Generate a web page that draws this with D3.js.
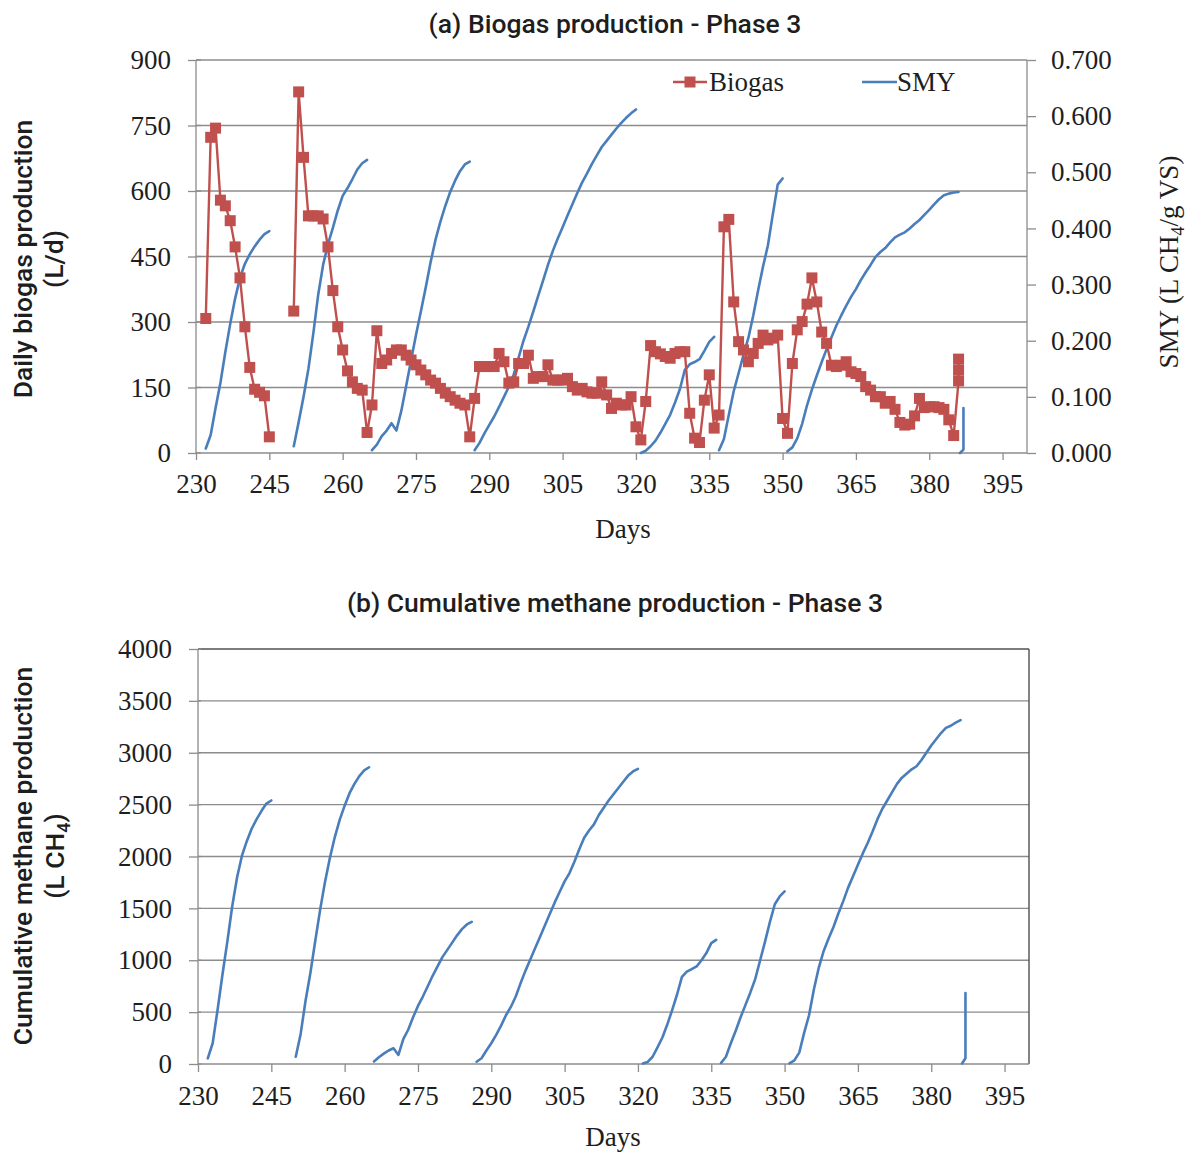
<!DOCTYPE html>
<html>
<head>
<meta charset="utf-8">
<script src="https://cdn.jsdelivr.net/npm/d3@7"></script>
<style>
  html, body { margin: 0; padding: 0; background: #fff; }
  svg { display: block; }
</style>
</head>
<body>
<svg id="chart" width="1192" height="1153"></svg>
<script>
// ---------------- DATA ----------------
const xTickValues = [230, 245, 260, 275, 290, 305, 320, 335, 350, 365, 380, 395];
const biogasTicks = [0, 150, 300, 450, 600, 750, 900];
const smyTicks = [0, 0.1, 0.2, 0.3, 0.4, 0.5, 0.6, 0.7];
const cumTicks = [0, 500, 1000, 1500, 2000, 2500, 3000, 3500, 4000];

// Daily biogas production (L/d); null = break in the line
const biogasDays = [
  232,233,234,235,236,237,238,239,240,241,242,243,244,245, 247,
  250,251,252,253,254,255,256,257,258,259,260,261,262,263,264,265,
  266,267,268,269,270,271,272,273,274,275,276,277,278,279,280,281,282,283,284,285,286,
  287,288,289,290,291,292,293,294,295,296,297,298,299,300,301,302,303,304,305,306,307,308,309,310,
  311,312,313,314,315,316,317,318,319,320,321,322,323,324,325,326,327,328,329,330,
  331,332,333,334,335,336,337,338,339,340,341,342,343,344,345,346,347,348,349,350,
  351,352,353,354,355,356,357,358,359,360,361,362,363,364,365,366,367,368,369,370,
  371,372,373,374,375,376,377,378,379,380,381,382,383,384,385,386,386,386
];
const biogasValues = [
  308,723,744,579,566,532,472,401,289,196,146,139,131,37, null,
  325,827,677,543,543,543,536,472,372,289,236,188,163,148,144,47,
  110,280,205,213,228,236,236,224,213,202,190,179,167,160,148,137,129,121,114,110,37,
  125,198,198,198,198,228,209,160,163,205,205,224,171,175,175,202,167,167,167,171,152,144,148,140,
  137,137,163,133,102,114,110,110,129,60,30,118,246,232,227,221,217,228,232,232,
  91,34,24,121,179,57,87,518,535,346,255,236,209,228,251,270,259,263,270,79,
  45,205,282,301,341,401,346,277,251,201,198,201,209,186,182,175,152,144,129,129,
  114,118,100,70,64,66,85,125,104,106,106,104,100,76,40,165,190,215
];

// SMY (L CH4/g VS); null = break between batches
const smyDays = [
  232,233,234,235,236,237,238,239,240,241,242,243,244,245, 247,
  250,251,252,253,254,255,256,257,258,259,260,261,262,263,264,265, 265.5,
  266,267,268,269,270,271,272,273,274,275,276,277,278,279,280,281,282,283,284,285,286, 286.5,
  287,288,289,290,291,292,293,294,295,296,297,298,299,300,301,302,303,304,305,306,307,308,309,310,
  311,312,313,314,315,316,317,318,319,320, 320.5,
  321,322,323,324,325,326,327,328,329,330,331,332,333,334,335,336, 336.5,
  337,338,339,340,341,342,343,344,345,346,347,348,349,350, 350.5,
  351,352,353,354,355,356,357,358,359,360,361,362,363,364,365,366,367,368,369,370,
  371,372,373,374,375,376,377,378,379,380,381,382,383,384,385,386, 386.2,
  386.3,387,387
];
const smyValues = [
  0.008,0.032,0.080,0.125,0.180,0.230,0.275,0.312,0.337,0.354,0.368,0.380,0.390,0.395, null,
  0.012,0.055,0.100,0.150,0.213,0.282,0.335,0.372,0.401,0.432,0.458,0.472,0.488,0.505,0.516,0.522, null,
  0.005,0.015,0.030,0.040,0.053,0.040,0.075,0.120,0.165,0.210,0.252,0.295,0.340,0.380,0.412,0.440,0.465,0.485,0.502,0.514,0.519, null,
  0.005,0.018,0.035,0.050,0.065,0.082,0.100,0.118,0.140,0.170,0.200,0.225,0.252,0.280,0.307,0.335,0.360,0.382,0.402,0.423,0.443,0.463,0.482,0.498,
  0.515,0.530,0.545,0.556,0.567,0.578,0.588,0.597,0.605,0.612, null,
  0.000,0.004,0.012,0.022,0.036,0.052,0.068,0.090,0.114,0.148,0.158,0.162,0.167,0.182,0.198,0.207, null,
  0.005,0.025,0.068,0.110,0.142,0.175,0.205,0.245,0.290,0.332,0.370,0.425,0.478,0.489, null,
  0.003,0.010,0.026,0.052,0.085,0.113,0.138,0.162,0.185,0.206,0.227,0.245,0.262,0.278,0.292,0.308,0.322,0.335,0.349,0.358,
  0.365,0.375,0.384,0.389,0.393,0.400,0.408,0.415,0.424,0.433,0.443,0.452,0.459,0.462,0.464,0.465, null,
  0.000,0.006,0.080
];

// Cumulative methane production (L CH4); null = break between batches
const cumDays = [
  232,233,234,235,236,237,238,239,240,241,242,243,244,245, 247,
  250,251,252,253,254,255,256,257,258,259,260,261,262,263,264,265, 265.5,
  266,267,268,269,270,271,272,273,274,275,276,277,278,279,280,281,282,283,284,285,286, 286.5,
  287,288,289,290,291,292,293,294,295,296,297,298,299,300,301,302,303,304,305,306,307,308,309,310,
  311,312,313,314,315,316,317,318,319,320, 320.5,
  321,322,323,324,325,326,327,328,329,330,331,332,333,334,335,336, 336.5,
  337,338,339,340,341,342,343,344,345,346,347,348,349,350, 350.5,
  351,352,353,354,355,356,357,358,359,360,361,362,363,364,365,366,367,368,369,370,
  371,372,373,374,375,376,377,378,379,380,381,382,383,384,385,386, 386.2,
  386.3,387,387
];
const cumValues = [
  55,200,520,860,1180,1520,1800,2010,2150,2270,2360,2440,2510,2540, null,
  70,290,610,880,1190,1490,1760,1990,2190,2355,2490,2610,2700,2775,2830,2860, null,
  25,65,100,130,152,87,240,330,450,560,650,750,850,940,1030,1100,1170,1240,1300,1345,1370, null,
  22,55,130,200,280,370,470,550,650,780,900,1010,1120,1230,1340,1450,1560,1660,1760,1840,1950,2070,2180,2250,
  2310,2400,2470,2540,2600,2660,2720,2780,2820,2845, null,
  5,20,70,160,255,380,520,670,840,890,915,940,1000,1069,1165,1197, null,
  10,70,200,320,450,570,690,820,1000,1180,1370,1540,1615,1663, null,
  7,35,110,300,470,720,930,1090,1210,1320,1450,1570,1700,1810,1920,2030,2130,2240,2360,2460,
  2540,2620,2700,2760,2800,2840,2870,2930,3000,3070,3130,3190,3240,3260,3290,3314, null,
  5,55,685
];

// ---------------- DRAW ----------------
const svg = d3.select("#chart");
svg.append("rect").attr("width", 1192).attr("height", 1153).attr("fill", "#fff");

const gridColor = "#8c8c8c";
const axisColor = "#8c8c8c";
const textColor = "#1e1e1e";
const red = "#c0504d";
const blue = "#4a7ebb";
const serif = '"Liberation Serif", "Times New Roman", serif';
const sans = 'Roboto, "Noto Sans", sans-serif';
const sansSize = 26.5;

function zip(days, vals) { return days.map((d, i) => ({ d, v: vals[i] })); }

function styleAxis(g) {
  g.select(".domain").remove();
  g.selectAll(".tick line").attr("stroke", axisColor).attr("stroke-width", 1.3);
  g.selectAll(".tick text").attr("fill", textColor).attr("font-family", serif).attr("font-size", 27);
}

// ===== Chart (a) =====
const xA = d3.scaleLinear().domain([230, 400]).range([196, 1027]);
const yA = d3.scaleLinear().domain([0, 900]).range([453, 60]);
const yA2 = d3.scaleLinear().domain([0, 0.7]).range([453, 60]);

const gA = svg.append("g");
gA.selectAll("line.grid").data(biogasTicks.filter(t => t > 0)).enter().append("line")
  .attr("x1", xA(230)).attr("x2", xA(400))
  .attr("y1", d => yA(d)).attr("y2", d => yA(d))
  .attr("stroke", gridColor).attr("stroke-width", 1.3);
gA.append("line").attr("x1", xA(230)).attr("x2", xA(230)).attr("y1", yA(0)).attr("y2", yA(900)).attr("stroke", axisColor).attr("stroke-width", 1.3);
gA.append("line").attr("x1", xA(400)).attr("x2", xA(400)).attr("y1", yA(0)).attr("y2", yA(900)).attr("stroke", axisColor).attr("stroke-width", 1.3);
gA.append("line").attr("x1", xA(230)).attr("x2", xA(400)).attr("y1", yA(0)).attr("y2", yA(0)).attr("stroke", axisColor).attr("stroke-width", 1.3);

gA.append("g").attr("transform", `translate(0,${yA(0)})`)
  .call(d3.axisBottom(xA).tickValues(xTickValues).tickSize(7).tickPadding(14).tickFormat(d3.format("d")))
  .call(styleAxis);
gA.append("g").attr("transform", `translate(${xA(230)},0)`)
  .call(d3.axisLeft(yA).tickValues(biogasTicks).tickSize(8).tickPadding(17).tickFormat(d3.format("d")))
  .call(styleAxis);
gA.selectAll("line.stubA").data(biogasTicks).enter().append("line")
  .attr("x1", xA(230)).attr("x2", xA(230) + 5).attr("y1", d => yA(d)).attr("y2", d => yA(d))
  .attr("stroke", axisColor).attr("stroke-width", 1.3);
gA.append("g").attr("transform", `translate(${xA(400)},0)`)
  .call(d3.axisRight(yA2).tickValues(smyTicks).tickSize(9).tickPadding(15).tickFormat(d3.format(".3f")))
  .call(styleAxis);

const lineSmy = d3.line().defined(p => p.v !== null).x(p => xA(p.d)).y(p => yA2(p.v));
gA.append("path").datum(zip(smyDays, smyValues))
  .attr("d", lineSmy).attr("fill", "none").attr("stroke", blue).attr("stroke-width", 2.6)
  .attr("stroke-linejoin", "round").attr("stroke-linecap", "round");

const lineBio = d3.line().defined(p => p.v !== null).x(p => xA(p.d)).y(p => yA(p.v));
const bioData = zip(biogasDays, biogasValues);
gA.append("path").datum(bioData)
  .attr("d", lineBio).attr("fill", "none").attr("stroke", red).attr("stroke-width", 2.4)
  .attr("stroke-linejoin", "round");
const ms = 11;
gA.selectAll("rect.mk").data(bioData.filter(p => p.v !== null)).enter().append("rect")
  .attr("x", p => xA(p.d) - ms / 2).attr("y", p => yA(p.v) - ms / 2)
  .attr("width", ms).attr("height", ms).attr("fill", red);

// Legend
gA.append("line").attr("x1", 673).attr("x2", 707).attr("y1", 82).attr("y2", 82).attr("stroke", red).attr("stroke-width", 2.4);
gA.append("rect").attr("x", 690 - ms / 2).attr("y", 82 - ms / 2).attr("width", ms).attr("height", ms).attr("fill", red);
gA.append("text").attr("x", 709).attr("y", 91).attr("font-family", serif).attr("font-size", 27).attr("fill", textColor).text("Biogas");
gA.append("line").attr("x1", 862).attr("x2", 897).attr("y1", 82).attr("y2", 82).attr("stroke", blue).attr("stroke-width", 2.6);
gA.append("text").attr("x", 897).attr("y", 91).attr("font-family", serif).attr("font-size", 27).attr("fill", textColor).text("SMY");

svg.append("text").attr("x", 615).attr("y", 33).attr("text-anchor", "middle")
  .attr("font-family", sans).attr("font-weight", 500).attr("font-size", sansSize).attr("fill", textColor)
  .text("(a) Biogas production - Phase 3");
svg.append("text").attr("x", 623).attr("y", 538).attr("text-anchor", "middle")
  .attr("font-family", serif).attr("font-size", 27).attr("fill", textColor).text("Days");
const ltA = svg.append("text").attr("transform", "translate(32,259) rotate(-90)").attr("text-anchor", "middle")
  .attr("font-family", sans).attr("font-weight", 500).attr("font-size", sansSize).attr("fill", textColor);
ltA.append("tspan").attr("x", 0).attr("y", 0).text("Daily biogas production");
ltA.append("tspan").attr("x", 0).attr("y", 31).text("(L/d)");
const rtA = svg.append("text").attr("transform", "translate(1178,262) rotate(-90)").attr("text-anchor", "middle")
  .attr("font-family", serif).attr("font-size", 27).attr("fill", textColor);
rtA.append("tspan").text("SMY (L CH");
rtA.append("tspan").attr("font-size", 18).attr("dy", 6).text("4");
rtA.append("tspan").attr("dy", -6).text("/g VS)");

// ===== Chart (b) =====
const xB = d3.scaleLinear().domain([230, 400]).range([198, 1029]);
const yB = d3.scaleLinear().domain([0, 4000]).range([1064, 649]);
const gB = svg.append("g");
gB.selectAll("line.grid").data(cumTicks.filter(t => t > 0 && t < 4000)).enter().append("line")
  .attr("x1", xB(230)).attr("x2", xB(400))
  .attr("y1", d => yB(d)).attr("y2", d => yB(d))
  .attr("stroke", gridColor).attr("stroke-width", 1.3);
gB.append("line").attr("x1", xB(230)).attr("x2", xB(400)).attr("y1", yB(4000)).attr("y2", yB(4000)).attr("stroke", "#505050").attr("stroke-width", 1.4);
gB.append("line").attr("x1", xB(400)).attr("x2", xB(400)).attr("y1", yB(0)).attr("y2", yB(4000)).attr("stroke", "#505050").attr("stroke-width", 1.4);
gB.append("line").attr("x1", xB(230)).attr("x2", xB(230)).attr("y1", yB(0)).attr("y2", yB(4000)).attr("stroke", axisColor).attr("stroke-width", 1.3);
gB.append("line").attr("x1", xB(230)).attr("x2", xB(400)).attr("y1", yB(0)).attr("y2", yB(0)).attr("stroke", axisColor).attr("stroke-width", 1.3);

gB.append("g").attr("transform", `translate(0,${yB(0)})`)
  .call(d3.axisBottom(xB).tickValues(xTickValues).tickSize(8).tickPadding(14).tickFormat(d3.format("d")))
  .call(styleAxis);
gB.append("g").attr("transform", `translate(${xB(230)},0)`)
  .call(d3.axisLeft(yB).tickValues(cumTicks).tickSize(9).tickPadding(17).tickFormat(d3.format("d")))
  .call(styleAxis);
gB.selectAll("line.stubB").data(cumTicks).enter().append("line")
  .attr("x1", xB(230)).attr("x2", xB(230) + 3).attr("y1", d => yB(d)).attr("y2", d => yB(d))
  .attr("stroke", axisColor).attr("stroke-width", 1.3);

const lineCum = d3.line().defined(p => p.v !== null).x(p => xB(p.d)).y(p => yB(p.v));
gB.append("path").datum(zip(cumDays, cumValues))
  .attr("d", lineCum).attr("fill", "none").attr("stroke", blue).attr("stroke-width", 2.6)
  .attr("stroke-linejoin", "round").attr("stroke-linecap", "round");

svg.append("text").attr("x", 615).attr("y", 612).attr("text-anchor", "middle")
  .attr("font-family", sans).attr("font-weight", 500).attr("font-size", sansSize).attr("fill", textColor)
  .text("(b) Cumulative methane production - Phase 3");
svg.append("text").attr("x", 613).attr("y", 1146).attr("text-anchor", "middle")
  .attr("font-family", serif).attr("font-size", 27).attr("fill", textColor).text("Days");
const ltB = svg.append("text").attr("transform", "translate(32,856) rotate(-90)").attr("text-anchor", "middle")
  .attr("font-family", sans).attr("font-weight", 500).attr("font-size", sansSize).attr("fill", textColor);
ltB.append("tspan").attr("x", 0).attr("y", 0).text("Cumulative methane production");
const l2 = ltB.append("tspan").attr("x", 0).attr("y", 32);
l2.append("tspan").text("(L CH");
l2.append("tspan").attr("font-size", 18).attr("dy", 6).text("4");
l2.append("tspan").attr("dy", -6).text(")");
</script>
</body>
</html>
